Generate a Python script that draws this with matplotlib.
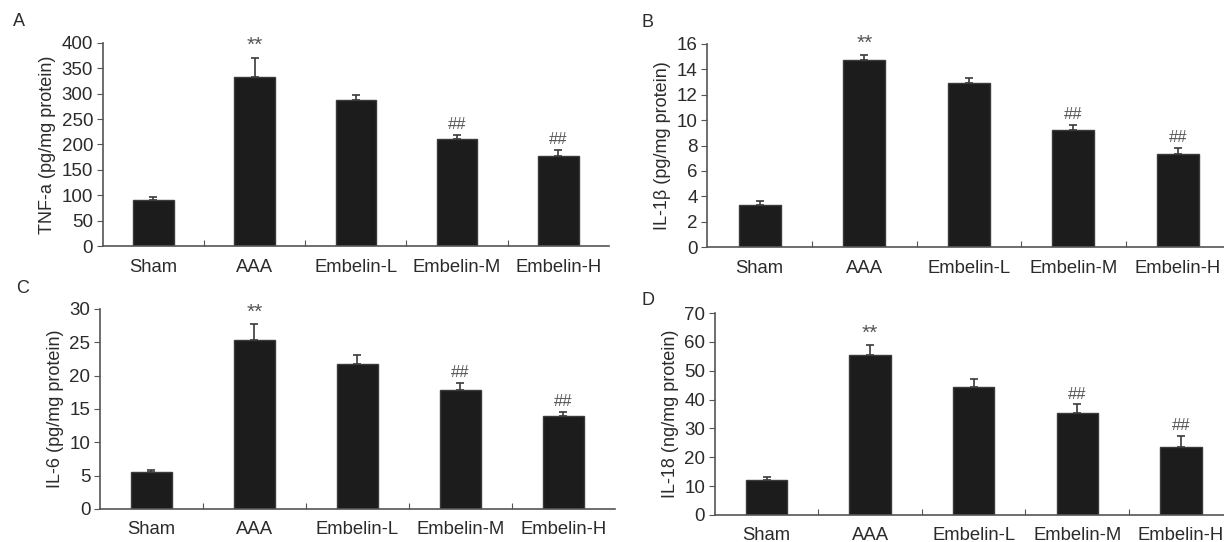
import matplotlib.pyplot as plt
import numpy as np

plt.rcParams['font.family'] = ['Liberation Sans', 'DejaVu Sans']

groups = ["Sham", "AAA", "Embelin-L", "Embelin-M", "Embelin-H"]

# panel values (means) and upper error bars (SD)
tnf_mean = [90, 333, 288, 211, 178]
tnf_err = [7, 37, 9, 8, 11]
il1b_mean = [3.3, 14.7, 12.9, 9.25, 7.3]
il1b_err = [0.3, 0.4, 0.4, 0.4, 0.5]
il6_mean = [5.6, 25.3, 21.8, 17.9, 13.9]
il6_err = [0.2, 2.4, 1.3, 1.0, 0.7]
il18_mean = [12.0, 55.5, 44.5, 35.3, 23.6]
il18_err = [1.0, 3.3, 2.5, 3.0, 3.7]

marks = ["", "**", "", "##", "##"]

panels = [
    ("A", tnf_mean, tnf_err, "TNF-a (pg/mg protein)", 400, 50, [0.084, 0.546, 0.4135, 0.375]),
    ("B", il1b_mean, il1b_err, "IL-1\u03b2 (pg/mg protein)", 16, 2, [0.578, 0.544, 0.427, 0.375]),
    ("C", il6_mean, il6_err, "IL-6 (pg/mg protein)", 30, 5, [0.0817, 0.061, 0.4205, 0.369]),
    ("D", il18_mean, il18_err, "IL-18 (ng/mg protein)", 70, 10, [0.584, 0.050, 0.423, 0.3725]),
]

txt = "#2b2b2b"
fig = plt.figure(figsize=(12.24, 5.42), dpi=100)

for letter, mean, err, ylab, ymax, step, rect in panels:
    ax = fig.add_axes(rect)
    x = np.arange(len(groups))
    ax.bar(x, mean, width=0.4, color="#1c1c1c", edgecolor="#3a3a3a", linewidth=1, zorder=2)
    ax.errorbar(x, mean, yerr=[np.zeros(len(err)), err], fmt="none", ecolor="#3a3a3a",
                elinewidth=1.2, capsize=3, capthick=1.2, zorder=1)
    for xi, m, e, s in zip(x, mean, err, marks):
        if s:
            fs = 15 if s == "**" else 12
            ax.annotate(s, (xi, m + e), xytext=(0, 2), textcoords="offset points",
                        ha="center", va="bottom", fontsize=fs, color="#555555")
    ax.set_xlim(-0.5, 4.5)
    ax.set_ylim(0, ymax)
    ax.set_yticks(np.arange(0, ymax + step / 2, step))
    ax.set_xticks([0.5, 1.5, 2.5, 3.5])
    ax.set_xticklabels([])
    ax.set_xticks(x, minor=True)
    ax.set_xticklabels(groups, minor=True)
    ax.tick_params(axis="x", which="major", direction="in", length=4, color="#555555")
    ax.tick_params(axis="x", which="minor", length=0, pad=9, labelsize=13.3, labelcolor=txt)
    ax.tick_params(axis="y", direction="out", length=4, color="#555555", labelsize=13.5,
                   labelcolor=txt, pad=3)
    for sp in ["top", "right"]:
        ax.spines[sp].set_visible(False)
    for sp in ["left", "bottom"]:
        ax.spines[sp].set_color("#555555")
        ax.spines[sp].set_linewidth(1.2)
    ax.set_ylabel(ylab, fontsize=13, color=txt, labelpad=4)

fig.text(0.011, 0.961, "A", fontsize=13, color=txt, va="center")
fig.text(0.524, 0.958, "B", fontsize=13, color=txt, va="center")
fig.text(0.013, 0.467, "C", fontsize=13, color=txt, va="center")
fig.text(0.524, 0.445, "D", fontsize=13, color=txt, va="center")

fig.savefig("out.png", dpi=100)
